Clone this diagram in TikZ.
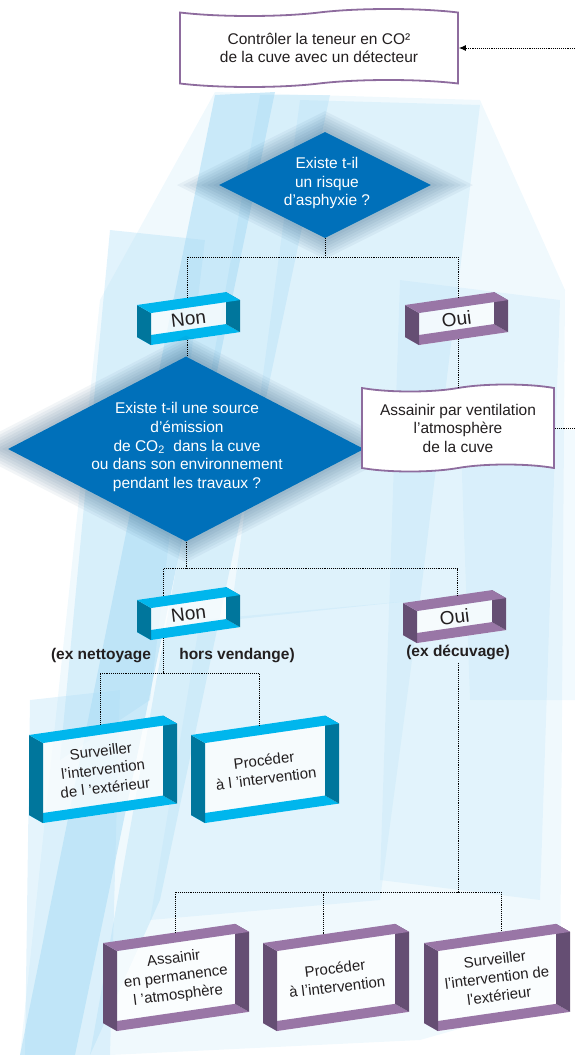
\documentclass[tikz,border=0pt]{standalone}
\usepackage{fontspec}
\setmainfont{Liberation Sans}
\usetikzlibrary{shapes.geometric,shapes.symbols,arrows.meta}

\definecolor{losange}{RGB}{0,112,186}
\definecolor{halo}{RGB}{20,70,110}
\definecolor{cyanclair}{RGB}{0,182,237}
\definecolor{cyanfonce}{RGB}{0,118,156}
\definecolor{violetclair}{RGB}{153,118,166}
\definecolor{violetfonce}{RGB}{101,78,115}
\definecolor{bordviolet}{RGB}{142,108,158}
\definecolor{fond}{RGB}{170,220,245}
\definecolor{texte}{RGB}{35,31,32}

\tikzset{
  lien/.style={densely dotted, line width=0.9pt, black},
  question/.style={diamond, fill=losange, inner sep=0pt},
  questiontexte/.style={text=white, align=center, inner sep=0pt, font=\fontsize{15.5}{18.7}\selectfont},
  bande/.style={tape, draw=bordviolet, line width=1.8pt, fill=white, align=center, text=texte,
    font=\fontsize{15.5}{18.5}\selectfont, tape bend height=7pt},
  cadretexte/.style={align=center, rotate=7, text=texte, inner sep=0pt, font=\fontsize{15}{18.5}\selectfont},
  remarque/.style={text=texte, font=\fontsize{15.5}{18}\selectfont\bfseries}
}

% 3D frame: name, back top-left x, y, width, height, colour, link offset, text
\newcommand{\cadre}[8]{%
  \pgfmathsetmacro{\monte}{0.145*#4}
  \coordinate (#1-a) at (#2,#3);
  \coordinate (#1-b) at ({#2+#4},{#3-\monte});
  \coordinate (#1-c) at ({#2+#4},{#3+#5-\monte});
  \coordinate (#1-d) at (#2,{#3+#5});
  \coordinate (#1-e) at ({#2+14},{#3+8});
  \coordinate (#1-f) at ({#2+#4+14},{#3+8-\monte});
  \coordinate (#1-g) at ({#2+#4+14},{#3+#5+8-\monte});
  \coordinate (#1-h) at ({#2+14},{#3+#5+8});
  \fill[white, fill opacity=0.7] (#1-e) -- (#1-f) -- (#1-g) -- (#1-h) -- cycle;
  \fill[#6clair] (#1-d) -- (#1-c) -- (#1-g) -- (#1-h) -- cycle;
  \fill[#6fonce] (#1-b) -- (#1-f) -- (#1-g) -- (#1-c) -- cycle;
  \fill[#6fonce] (#1-a) -- (#1-e) -- (#1-h) -- (#1-d) -- cycle;
  \fill[#6clair] (#1-a) -- (#1-b) -- (#1-f) -- (#1-e) -- cycle;
  \coordinate (#1-top) at ({#2+#7},{#3-0.145*#7});
  \coordinate (#1-bot) at ({#2+#7},{#3+#5+8-0.145*(#7-14)});
  \node[cadretexte] (#1) at ({#2+7+#4/2},{#3+4+#5/2-\monte/2}) {#8};
}
\newcommand{\grosmot}[1]{{\fontsize{19}{20}\selectfont #1}}

\begin{document}
\begin{tikzpicture}[x=1pt,y=-1pt]

    \useasboundingbox (0,0) rectangle (575,1055);

    % Background strips
    \fill[fond, opacity=0.18] (215,92) -- (480,100) -- (565,290) -- (560,1000)
      -- (420,1040) -- (110,1055) -- (20,1055) -- (100,300) -- cycle;
    \foreach \xa/\ya/\xb/\yb/\xc/\yc/\xd/\yd/\op in {
        215/95/275/92/75/1055/20/1055/0.55,
        260/95/330/95/160/900/90/1055/0.35,
        300/100/480/105/420/600/230/620/0.25,
        110/230/205/240/150/700/60/760/0.35,
        400/280/560/300/540/900/380/880/0.2,
        200/620/420/600/380/900/150/920/0.2,
        460/420/575/430/575/700/470/700/0.15,
        30/700/120/690/110/1055/25/1055/0.3}
      \fill[fond, opacity=\op] (\xa,\ya) -- (\xb,\yb) -- (\xc,\yc) -- (\xd,\yd) -- cycle;

    % Top box and return arrow
    \node[bande, minimum width=278pt, minimum height=78pt] (ctrl) at (319,48)
      {Contrôler la teneur en CO²\\de la cuve avec un détecteur};
    \coordinate (retour) at (575,48);
    \draw[lien, -{Latex[length=7pt,width=6pt]}] (retour) -- (ctrl.east);

    % First question
    \coordinate (c1) at (325,185);
    \foreach \k in {1,...,7}
      \fill[halo, opacity=0.055] (c1) ++(0,{-53-3*\k}) -- ++({106+6*\k},{53+3*\k})
        -- ++({-106-6*\k},{53+3*\k}) -- ++({-106-6*\k},{-53-3*\k}) -- cycle;
    \node[question, minimum width=212pt, minimum height=106pt] (q1) at (c1) {};
    \node[questiontexte] (q1t) at (327,183) {Existe t-il\\un risque\\d’asphyxie ?};

    % First answers
    \cadre{non1}{137}{305}{89}{32}{cyan}{50}{\grosmot{Non}}
    \cadre{oui1}{405}{305}{89}{32}{violet}{53}{\grosmot{Oui}}
    \draw[lien] (q1.south) -- ++(0,19) coordinate (j1);
    \draw[lien] (non1-top) |- (j1) -| (oui1-top);

    % Second question
    \coordinate (c2) at (186,449);
    \foreach \k in {1,...,7}
      \fill[halo, opacity=0.055] (c2) ++(0,{-92.5-3*\k}) -- ++({178+6*\k},{92.5+3*\k})
        -- ++({-178-6*\k},{92.5+3*\k}) -- ++({-178-6*\k},{-92.5-3*\k}) -- cycle;
    \node[question, minimum width=356pt, minimum height=185pt] (q2) at (c2) {};
    \node[questiontexte] (q2t) at (187,447) {Existe t-il une source\\d’émission\\de CO\textsubscript{2}\ \ dans la cuve\\ou dans son environnement\\pendant les travaux ?};
    \draw[lien] (non1-bot) -- (non1-bot |- q2.north);

    % Ventilation
    \node[bande, minimum width=192pt, minimum height=87pt] (vent) at (458,428)
      {Assainir par ventilation\\l’atmosphère\\de la cuve};
    \coordinate (vers) at (575,428);
    \draw[lien] (oui1-bot) -- (vent.north);
    \draw[lien] (vent.east) -- (vers);

    % Second answers
    \cadre{non2}{137}{600}{89}{32}{cyan}{26}{\grosmot{Non}}
    \cadre{oui2}{403}{603}{89}{32}{violet}{54}{\grosmot{Oui}}
    \draw[lien] (q2.south) -- ++(0,27) coordinate (j2);
    \draw[lien] (non2-top) |- (j2) -| (oui2-top);

    \node[remarque] (nett) at (101,656) {(ex nettoyage};
    \node[remarque] (vend) at (237,656) {hors vendange)};
    \node[remarque] (decuv) at (458,652) {(ex décuvage)};

    % Actions without source
    \cadre{surv1}{29}{735}{134}{80}{cyan}{71}{Surveiller\\l’intervention\\de l ’extérieur}
    \cadre{proc1}{191}{735}{134}{80}{cyan}{68}{Procéder\\à l ’intervention}
    \draw[lien] (non2-bot) -- ++(0,35) coordinate (j3);
    \draw[lien] (surv1-top) |- (j3) -| (proc1-top);

    % Actions with source
    \coordinate (j4) at (458,892);
    \cadre{assain2}{103}{943}{132}{80}{violet}{72}{Assainir\\en permanence\\l ’atmosphère}
    \cadre{proc2}{263}{943}{132}{80}{violet}{60}{Procéder\\à l’intervention}
    \cadre{surv2}{424}{943}{132}{80}{violet}{77}{Surveiller\\l’intervention de\\l\textquotesingle extérieur}
    \draw[lien] (decuv.south) -- (decuv.south |- j4);
    \draw[lien] (assain2-top) |- (j4) -| (surv2-top);
    \draw[lien] (proc2-top) -- (proc2-top |- j4);

\end{tikzpicture}
\end{document}
